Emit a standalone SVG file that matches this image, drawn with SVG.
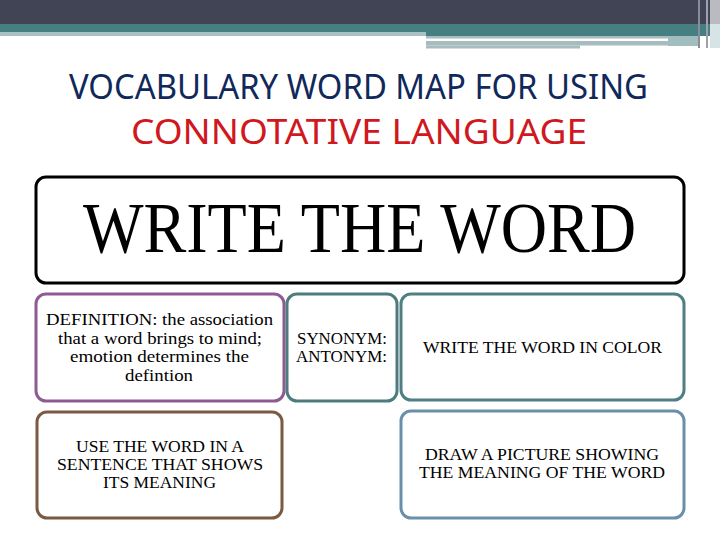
<svg xmlns="http://www.w3.org/2000/svg" width="720" height="540" viewBox="0 0 720 540">
<style>
.box{fill:#ffffff;stroke-width:3}
.t{font-family:"Liberation Serif","Times New Roman",serif;font-size:17px;fill:#000;text-anchor:middle}
.s{text-anchor:start}
.h{font-family:"Noto Sans","DejaVu Sans",sans-serif;font-size:34px;text-anchor:start}
</style>
<rect width="720" height="540" fill="#ffffff"/>
<g id="header">
<rect x="0" y="0" width="720" height="24" fill="#414455"/>
<rect x="0" y="24" width="720" height="8" fill="#467f82"/>
<rect x="0" y="32" width="426" height="4" fill="#a7c1c4"/>
<rect x="426" y="32" width="294" height="4" fill="#467f82"/>
<rect x="426" y="36" width="242" height="2.5" fill="#a7bcbe"/>
<rect x="426" y="41" width="242" height="4.5" fill="#a7bcbe"/>
<rect x="426" y="45.5" width="154" height="3" fill="#a7bcbe"/>
<rect x="668" y="36" width="30" height="10" fill="#a0bec0"/>
<rect x="698" y="0" width="2" height="48" fill="#8a8c99"/>
<rect x="706" y="0" width="2" height="48" fill="#9ea0ab"/>
<rect x="710" y="0" width="10" height="24" fill="#b9bac2"/>
<rect x="710" y="24" width="10" height="24" fill="#d6e4e5"/>
</g>
<g id="title">
<text class="h" x="69" y="99" fill="#10295a" textLength="579" lengthAdjust="spacingAndGlyphs">VOCABULARY WORD MAP FOR USING</text>
<text class="h" x="131" y="144" fill="#d01820" textLength="456" lengthAdjust="spacingAndGlyphs">CONNOTATIVE LANGUAGE</text>
</g>
<g id="word">
<rect class="box" x="36" y="177" width="648" height="106" rx="10" stroke="#000000"/>
<text x="83" y="252" font-family="Liberation Serif,'Times New Roman',serif" font-size="72" textLength="553" lengthAdjust="spacingAndGlyphs">WRITE THE WORD</text>
</g>
<g id="definition">
<rect class="box" x="36" y="294" width="248" height="107" rx="10" stroke="#8e5a92"/>
<text class="t s" x="46" y="325" textLength="227" lengthAdjust="spacingAndGlyphs">DEFINITION:  the association</text>
<text class="t s" x="58" y="344" textLength="204" lengthAdjust="spacingAndGlyphs">that a word brings to mind;</text>
<text class="t s" x="70" y="362" textLength="179" lengthAdjust="spacingAndGlyphs">emotion determines the</text>
<text class="t s" x="125" y="381" textLength="68" lengthAdjust="spacingAndGlyphs">defintion</text>
</g>
<g id="synonym">
<rect class="box" x="287" y="294" width="110" height="107" rx="10" stroke="#4d7b7e"/>
<text class="t s" x="297" y="344" textLength="90" lengthAdjust="spacingAndGlyphs">SYNONYM:</text>
<text class="t s" x="296" y="362" textLength="91" lengthAdjust="spacingAndGlyphs">ANTONYM:</text>
</g>
<g id="color">
<rect class="box" x="401" y="294" width="283" height="106" rx="10" stroke="#4f7f80"/>
<text class="t s" x="423" y="353" textLength="239" lengthAdjust="spacingAndGlyphs">WRITE THE WORD IN COLOR</text>
</g>
<g id="sentence">
<rect class="box" x="37" y="412" width="245" height="106" rx="10" stroke="#7a5a40"/>
<text class="t s" x="76" y="452" textLength="168" lengthAdjust="spacingAndGlyphs">USE THE WORD IN A</text>
<text class="t s" x="57" y="470" textLength="206" lengthAdjust="spacingAndGlyphs">SENTENCE THAT SHOWS</text>
<text class="t s" x="103" y="488" textLength="113" lengthAdjust="spacingAndGlyphs">ITS MEANING</text>
</g>
<g id="picture">
<rect class="box" x="401" y="411" width="283" height="107" rx="10" stroke="#6a8fa8"/>
<text class="t s" x="425" y="460" textLength="234" lengthAdjust="spacingAndGlyphs">DRAW A PICTURE SHOWING</text>
<text class="t s" x="419" y="478" textLength="246" lengthAdjust="spacingAndGlyphs">THE MEANING OF THE WORD</text>
</g>
<g id="connectors"/>
</svg>
